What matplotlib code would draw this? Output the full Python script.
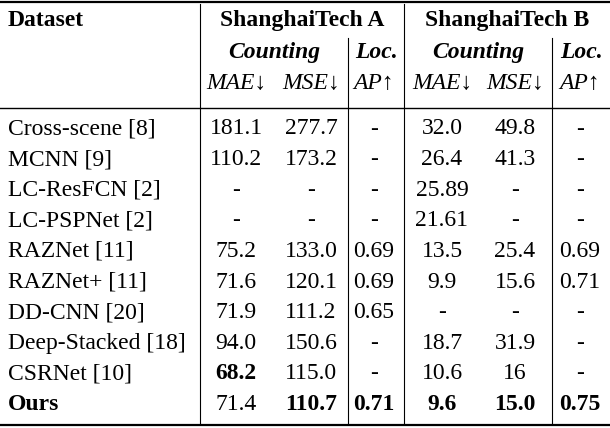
import matplotlib.pyplot as plt

methods = ["Cross-scene [8]", "MCNN [9]", "LC-ResFCN [2]", "LC-PSPNet [2]", "RAZNet [11]",
           "RAZNet+ [11]", "DD-CNN [20]", "Deep-Stacked [18]", "CSRNet [10]", "Ours"]
mae_a = ["181.1", "110.2", "-", "-", "75.2", "71.6", "71.9", "94.0", "68.2", "71.4"]
mse_a = ["277.7", "173.2", "-", "-", "133.0", "120.1", "111.2", "150.6", "115.0", "110.7"]
ap_a = ["-", "-", "-", "-", "0.69", "0.69", "0.65", "-", "-", "0.71"]
mae_b = ["32.0", "26.4", "25.89", "21.61", "13.5", "9.9", "-", "18.7", "10.6", "9.6"]
mse_b = ["49.8", "41.3", "-", "-", "25.4", "15.6", "-", "31.9", "16", "15.0"]
ap_b = ["-", "-", "-", "-", "0.69", "0.71", "-", "-", "-", "0.75"]
# (row, col) cells set in bold
bold_cells = {(8, 0), (9, 1), (9, 2), (9, 3), (9, 4), (9, 5)}

plt.rcParams["font.family"] = ["Liberation Serif", "DejaVu Serif"]
fs = 17

fig = plt.figure(figsize=(6.1, 4.28), dpi=100)
ax = fig.add_axes([0, 0, 1, 1])
ax.set_xlim(0, 610)
ax.set_ylim(428, 0)
ax.axis("off")

col_x = [236, 311, 374, 442, 515, 580]
vlines = [200, 348, 404, 552]

# rules
ax.plot([0, 610], [2, 2], color="black", lw=1.6)
ax.plot([0, 610], [108, 108], color="black", lw=1.0)
ax.plot([0, 610], [425, 425], color="black", lw=1.6)
ax.plot([vlines[0]] * 2, [4, 107], color="black", lw=0.8)
ax.plot([vlines[2]] * 2, [4, 107], color="black", lw=0.8)
ax.plot([vlines[1]] * 2, [38, 107], color="black", lw=0.8)
ax.plot([vlines[3]] * 2, [38, 107], color="black", lw=0.8)
for x in vlines:
    ax.plot([x, x], [109, 424], color="black", lw=0.8)

# header
ax.text(8, 20, "Dataset", fontsize=fs, fontweight="bold", va="center")
ax.text((vlines[0] + vlines[2]) / 2, 20, "ShanghaiTech A", fontsize=fs, fontweight="bold", ha="center", va="center")
ax.text((vlines[2] + 610) / 2, 20, "ShanghaiTech B", fontsize=fs, fontweight="bold", ha="center", va="center")
for c0, c1, c2 in [(vlines[0], vlines[1], vlines[2]), (vlines[2], vlines[3], 610)]:
    ax.text((c0 + c1) / 2, 52, "Counting", fontsize=fs, fontweight="bold", style="italic", ha="center", va="center")
    ax.text((c1 + c2) / 2, 52, "Loc.", fontsize=fs, fontweight="bold", style="italic", ha="center", va="center")
for x, lab in zip(col_x, ["MAE", "MSE", "AP", "MAE", "MSE", "AP"]):
    arrow = "\u2191" if lab == "AP" else "\u2193"
    ax.text(x, 83, lab + arrow, fontsize=fs, style="italic", ha="center", va="center")

# body
cols = [mae_a, mse_a, ap_a, mae_b, mse_b, ap_b]
for i, name in enumerate(methods):
    y = 129 + i * 30.6
    ax.text(8, y, name, fontsize=fs, va="center",
            fontweight="bold" if name == "Ours" else "normal")
    for j, col in enumerate(cols):
        ax.text(col_x[j], y, col[i], fontsize=fs, ha="center", va="center",
                fontweight="bold" if (i, j) in bold_cells else "normal")

fig.savefig("out.png", dpi=100)
